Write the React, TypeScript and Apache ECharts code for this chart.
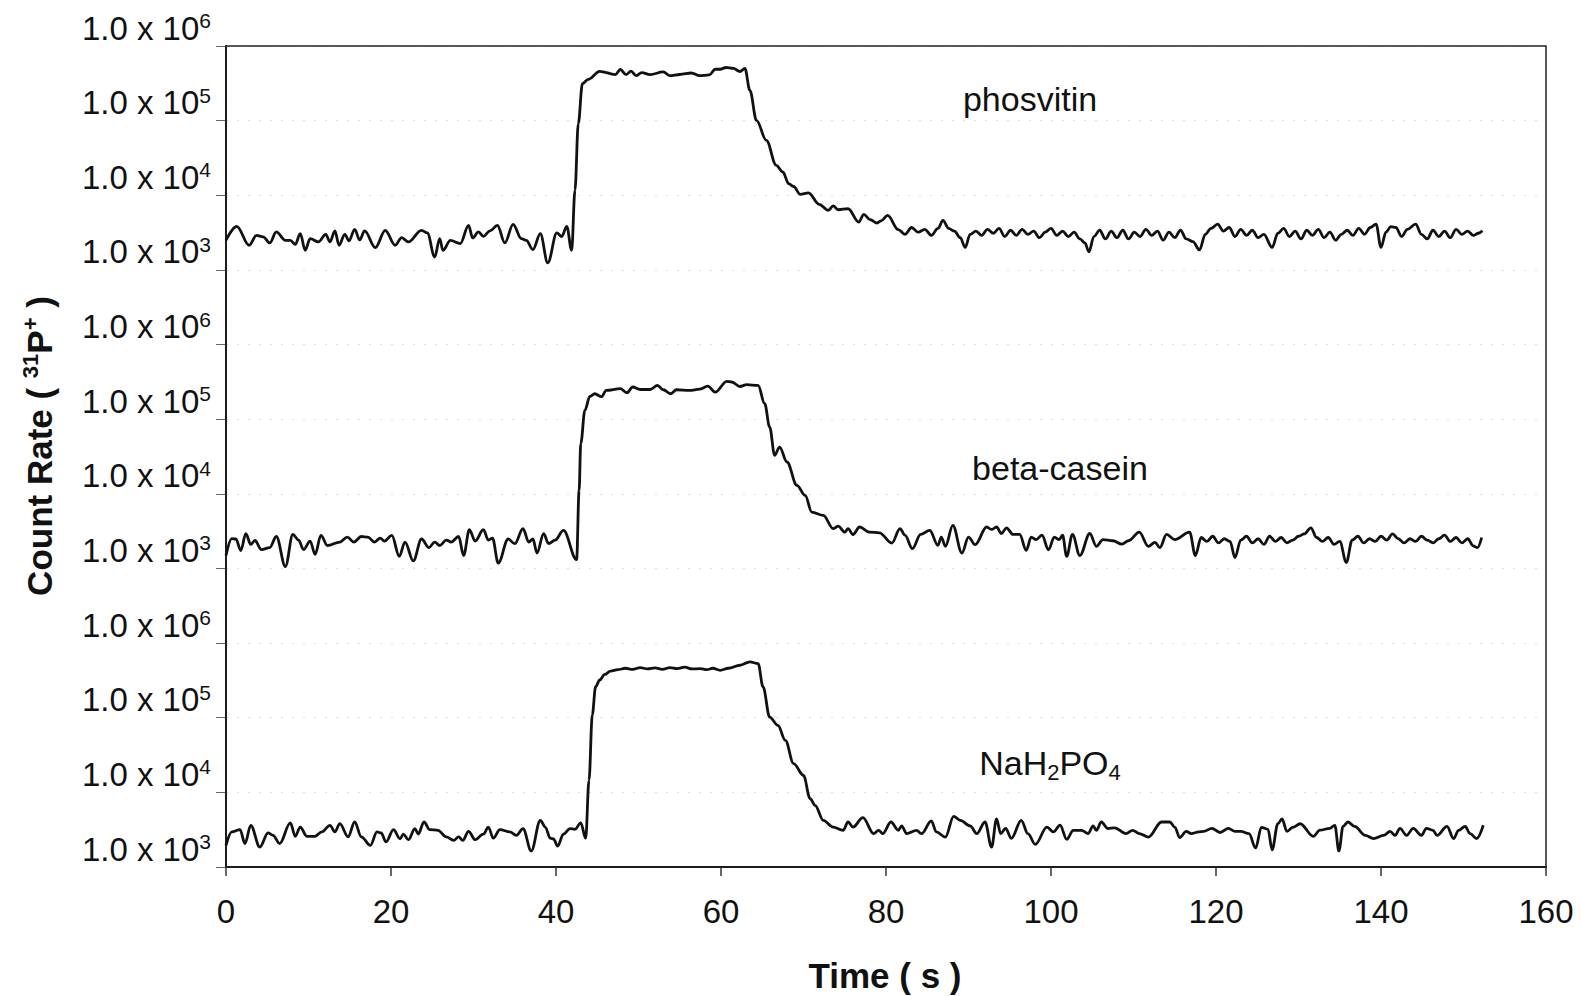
import React, { useEffect, useRef } from "react";
import * as echarts from "echarts";

// Time (s) vs count rate (31P+)
const phosvitin: [number, number][] = [
  [0, 2500], [1.3, 3840], [2.8, 2140], [3.7, 2900], [4.5, 2770], [5.3, 2300], [6.1, 3230], [7.2, 2490], [7.8, 2490], [8.4, 2200],
  [9.0, 3060], [9.6, 1830], [10.2, 2630], [11.2, 2370], [12.1, 3000], [12.6, 2370], [13.2, 3330], [13.7, 2140], [14.4, 3000], [14.9, 2450],
  [15.6, 3500], [16.2, 2520], [16.8, 3330], [18.1, 1990], [19.3, 3390], [20.5, 2140], [21.3, 2710], [22.1, 2370], [23.7, 3390], [24.4, 3130],
  [25.3, 1490], [25.9, 2630], [26.3, 1830], [27.2, 2490], [28.4, 2250], [29.4, 3960], [29.9, 2680], [30.6, 3230], [31.2, 2820], [32.0, 3330],
  [32.9, 3960], [33.8, 2300], [34.8, 4080], [35.8, 2630], [36.4, 2490], [37.2, 1870], [38.1, 3060], [39.0, 1240], [40.1, 3130], [40.7, 2800],
  [41.3, 3840], [41.9, 1830], [42.3, 11700], [42.7, 91000], [43.2, 313000], [43.9, 357000], [45.3, 458000], [47.2, 414000], [47.8, 484000], [48.5, 414000],
  [49.1, 460000], [49.7, 400000], [50.4, 440000], [51.4, 414000], [53.0, 450000], [53.8, 400000], [55.0, 415000], [56.4, 435000], [57.4, 400000], [58.6, 410000],
  [59.3, 488000], [59.9, 488000], [60.6, 515000], [61.5, 500000], [62.3, 455000], [62.9, 500000], [63.5, 255000], [64.3, 101000], [65.5, 54500], [66.7, 25200],
  [67.5, 20500], [68.2, 14300], [68.8, 13100], [69.6, 10300], [70.6, 10800], [71.9, 7560], [73.0, 6290], [73.6, 7200], [74.2, 6400], [75.4, 6600],
  [76.7, 4380], [77.3, 5550], [78.1, 4700], [78.9, 4250], [79.4, 4550], [80.2, 5380], [81.5, 3460], [82.3, 3000], [83.1, 3700], [83.9, 3200],
  [84.7, 3500], [85.5, 2900], [86.3, 3600], [86.9, 4600], [87.6, 3600], [88.3, 3300], [89.0, 2700], [89.6, 2000], [90.2, 3000], [90.9, 3300],
  [91.6, 2900], [92.3, 3500], [93.0, 3100], [93.7, 3600], [94.4, 2800], [95.1, 3400], [95.8, 2900], [96.5, 3500], [97.2, 3000], [97.9, 3300],
  [98.6, 2700], [99.3, 3200], [100.0, 3600], [100.7, 2900], [101.4, 3300], [102.1, 2800], [102.8, 3200], [103.5, 2600], [104.1, 2300], [104.6, 1750],
  [105.2, 2800], [105.9, 3400], [106.6, 2600], [107.3, 3300], [108.0, 2700], [108.7, 3400], [109.4, 2600], [110.1, 3200], [110.8, 2800], [111.5, 3500],
  [112.2, 2900], [112.9, 3300], [113.6, 2500], [114.3, 3200], [115.0, 2700], [115.7, 3400], [116.4, 2600], [117.2, 2400], [118.0, 1850], [118.7, 3000],
  [119.4, 3600], [120.2, 4100], [120.9, 3300], [121.6, 3700], [122.3, 2800], [123.0, 3500], [123.7, 2900], [124.4, 3400], [125.1, 2700], [125.8, 3000],
  [126.8, 2000], [127.5, 3100], [128.2, 3600], [128.9, 2800], [129.6, 3300], [130.3, 2600], [131.0, 3400], [131.7, 2900], [132.4, 3500], [133.1, 2700],
  [133.8, 3200], [134.5, 2500], [135.2, 3000], [135.9, 3400], [136.6, 2900], [137.3, 3600], [138.0, 3000], [138.7, 3700], [139.4, 4100], [140.0, 2000],
  [140.6, 3200], [141.2, 3800], [141.8, 3700], [142.5, 2800], [143.2, 3500], [144.2, 4100], [144.9, 3000], [145.6, 2600], [146.3, 3400], [147.0, 2800],
  [147.7, 3300], [148.4, 2700], [149.1, 3500], [149.8, 3000], [150.5, 3300], [151.2, 2900], [151.8, 3100], [152.3, 3350],
];

const betaCasein: [number, number][] = [
  [0, 1490], [0.7, 2510], [1.2, 2480], [1.8, 1740], [2.4, 2930], [3.0, 2100], [3.5, 2370], [4.3, 1790], [5.3, 1900], [6.1, 2680],
  [7.2, 1060], [8.1, 2850], [8.8, 2400], [9.4, 1790], [10.2, 2330], [10.8, 1540], [11.5, 2770], [12.3, 2030], [13.8, 2260], [14.7, 2630],
  [15.5, 2260], [16.4, 2680], [17.2, 2630], [18.0, 2260], [18.7, 2550], [19.2, 2330], [20.1, 2770], [21.0, 1450], [21.7, 2260], [22.7, 1260],
  [23.7, 2480], [24.6, 1900], [25.3, 2260], [25.9, 2030], [26.7, 2400], [27.3, 2260], [28.2, 2680], [28.8, 1490], [29.5, 3310], [30.2, 2330],
  [31.2, 3310], [31.8, 2400], [32.3, 2550], [33.0, 1180], [34.2, 2480], [35.0, 2150], [36.0, 3410], [36.7, 2260], [37.2, 2480], [37.7, 1610],
  [38.5, 2930], [39.1, 2150], [39.9, 2400], [40.9, 3230], [42.5, 1310], [42.8, 11100], [43.0, 47000], [43.5, 131000], [44.1, 202000], [44.7, 219000],
  [45.5, 200000], [46.1, 243000], [47.8, 256000], [48.6, 226000], [49.3, 270000], [50.2, 250000], [51.4, 250000], [52.3, 283000], [53.0, 248000], [53.9, 219000],
  [54.6, 248000], [56.2, 243000], [57.4, 252000], [58.4, 277000], [59.3, 230000], [60.7, 322000], [61.3, 315000], [62.3, 274000], [63.1, 290000], [64.5, 283000],
  [65.3, 161000], [65.9, 78400], [66.5, 32800], [67.1, 42300], [68.0, 26700], [69.2, 13000], [70.2, 9540], [71.0, 5700], [72.4, 5150], [73.6, 3410],
  [74.2, 3700], [75.0, 3070], [75.4, 3410], [76.0, 2850], [76.8, 3590], [78.0, 3070], [79.2, 3000], [80.7, 2190], [81.7, 3410], [82.3, 2790],
  [83.2, 1840], [84.2, 2860], [85.3, 3240], [86.3, 2040], [86.7, 2630], [87.2, 1980], [88.1, 3780], [89.2, 1610], [90.0, 2630], [90.8, 2080],
  [92.2, 3590], [92.8, 3330], [93.4, 3590], [94.0, 2940], [94.6, 3500], [95.4, 2860], [96.2, 2860], [97.0, 1750], [97.6, 2630], [98.2, 2430],
  [98.9, 2790], [99.7, 1780], [100.4, 2630], [101.0, 2430], [101.4, 2790], [101.9, 1450], [102.6, 2860], [103.5, 1490], [104.7, 2940], [105.5, 1980],
  [106.3, 2430], [107.5, 2350], [108.6, 2120], [109.4, 2350], [110.7, 3070], [111.8, 1980], [112.6, 2230], [113.2, 1900], [114.0, 2860], [115.0, 2430],
  [116.8, 3070], [117.5, 1490], [118.2, 2600], [118.9, 2300], [119.6, 2700], [120.3, 2200], [121.0, 2500], [121.7, 2300], [122.3, 1400], [123.0, 2400],
  [123.7, 2700], [124.4, 2200], [125.1, 2500], [125.8, 2100], [126.5, 2700], [127.2, 2300], [127.9, 2600], [128.6, 2200], [129.3, 2400], [130.0, 2700],
  [130.7, 2900], [131.5, 3500], [132.2, 2600], [132.9, 2300], [133.6, 2600], [134.3, 2100], [135.0, 2300], [135.8, 1200], [136.5, 2400], [137.2, 2700],
  [137.9, 2200], [138.6, 2500], [139.3, 2300], [140.0, 2700], [140.7, 2400], [141.4, 2900], [142.1, 2500], [142.8, 2200], [143.5, 2500], [144.2, 2300],
  [144.9, 2700], [145.6, 2400], [146.3, 2200], [147.0, 2500], [147.7, 2800], [148.4, 2300], [149.1, 2600], [149.8, 2200], [150.5, 2500], [151.2, 2000],
  [151.7, 1900], [152.2, 2600],
];

const nah2po4: [number, number][] = [
  [0, 1950], [0.7, 2950], [1.7, 3170], [2.3, 2060], [3.0, 3620], [4.1, 1850], [5.1, 2860], [5.7, 2660], [6.5, 2060], [7.8, 3890],
  [8.4, 2580], [9.0, 3430], [9.8, 2580], [10.8, 2580], [11.6, 2950], [12.6, 3620], [13.2, 2950], [13.8, 3810], [14.8, 2530], [15.6, 4010],
  [16.4, 2530], [17.5, 1950], [18.3, 2950], [18.8, 2860], [19.4, 2170], [20.3, 3170], [21.1, 2380], [21.5, 2760], [22.1, 2320], [22.9, 3270],
  [23.3, 2760], [24.0, 4010], [24.7, 3170], [25.7, 3100], [26.7, 2530], [27.6, 2270], [28.2, 2530], [28.7, 2270], [29.4, 3010], [30.2, 2320],
  [31.2, 2760], [31.8, 3430], [32.4, 2430], [33.2, 3170], [34.4, 2950], [35.2, 2660], [36.0, 3270], [37.0, 1640], [38.1, 4220], [38.7, 3430],
  [39.3, 2430], [39.7, 2380], [40.2, 1900], [40.9, 2760], [41.7, 3270], [42.3, 3200], [43.0, 3890], [43.6, 2430], [44.0, 14500], [44.4, 110000],
  [44.8, 260000], [45.3, 320000], [45.9, 380000], [46.6, 420000], [47.5, 440000], [48.4, 460000], [49.3, 445000], [50.2, 470000], [51.1, 450000], [52.0, 465000],
  [52.9, 445000], [53.8, 470000], [54.7, 455000], [55.6, 475000], [56.5, 450000], [57.5, 455000], [58.3, 440000], [59.0, 460000], [59.9, 432000], [60.9, 460000],
  [62.3, 505000], [63.5, 560000], [64.5, 530000], [65.1, 258000], [65.9, 102000], [66.9, 79000], [67.8, 49800], [68.8, 24300], [70.0, 16900], [70.8, 8260],
  [71.4, 6700], [72.4, 4220], [73.6, 3430], [74.8, 3100], [75.4, 4010], [76.0, 3430], [77.2, 4580], [78.5, 2800], [79.1, 3100], [79.6, 2800],
  [80.6, 4010], [81.5, 3100], [81.9, 3550], [82.5, 2800], [83.7, 3100], [84.3, 2800], [85.5, 4140], [86.1, 2950], [87.2, 2520], [88.2, 4780],
  [89.0, 4220], [90.2, 3550], [91.0, 2800], [92.0, 4010], [92.8, 1850], [93.4, 4400], [93.9, 2800], [94.5, 3280], [95.2, 2420], [96.4, 4220],
  [97.2, 2800], [98.1, 2010], [99.5, 3430], [100.3, 2950], [101.1, 3650], [101.9, 2350], [102.7, 3100], [103.7, 3100], [104.5, 2800], [105.1, 3550],
  [105.5, 3100], [106.1, 4010], [106.9, 3280], [107.7, 3350], [109.1, 2800], [109.9, 3100], [110.7, 2800], [111.8, 2520], [113.4, 4010], [114.4, 4010],
  [115.0, 3430], [115.6, 2480], [116.4, 3000], [117.0, 2800], [117.9, 2950], [118.5, 3000], [119.5, 3300], [120.5, 2900], [121.5, 3300], [122.3, 3000],
  [123.0, 3000], [124.0, 2800], [124.8, 1800], [125.5, 3400], [126.3, 3200], [126.8, 1700], [127.5, 3800], [128.0, 4400], [128.6, 3000], [129.3, 3400],
  [130.2, 3800], [131.8, 2580], [132.6, 3110], [133.8, 3300], [134.4, 3620], [134.9, 1640], [135.4, 3500], [136.0, 4010], [136.8, 3500], [138.1, 2650],
  [139.1, 2400], [140.3, 2650], [141.1, 3000], [141.7, 2650], [142.3, 3300], [143.1, 2650], [143.9, 3300], [144.9, 2650], [145.5, 3300], [146.3, 3100],
  [146.8, 2650], [148.0, 3500], [148.8, 2400], [149.4, 3100], [150.2, 3500], [150.8, 2800], [151.6, 2400], [152.4, 3620],
];

// each panel sits 4 decades above the previous one on the shared decade axis
const panelShift = [0, 4, 8]; // decades: NaH2PO4, beta-casein, phosvitin
// exponent shown at each decade tick, bottom (10^3 position) to top
const yTickExponents = [3, 4, 5, 6, 3, 4, 5, 6, 3, 4, 5, 6];
const panelLabels = ["NaH2PO4", "beta-casein", "phosvitin"];

const FONT = "'Liberation Sans', Arial, Helvetica, sans-serif";
const INK = "#111";

export default function App() {
  const ref = useRef<HTMLDivElement>(null);
  useEffect(() => {
    if (!ref.current) return;
    const chart = echarts.init(ref.current, undefined, { renderer: "svg" });
    // y axis is in decades (log10 of the count rate), stacked by panel
    const toDecades = (d: [number, number][], shift: number) => d.map(([t, v]) => [t, Math.log10(v) + shift]);
    const lineSeries = (name: string, data: number[][]) => ({
      name,
      type: "line",
      data,
      showSymbol: false,
      symbol: "none",
      smooth: 0.35,
      smoothMonotone: "x",
      lineStyle: { color: INK, width: 2.8 },
      z: 5,
    });
    chart.setOption({
      animation: false,
      backgroundColor: "#fff",
      grid: { left: 226, top: 46, right: 35, bottom: 129, show: true, borderColor: "#222", borderWidth: 1.5, z: 3 },
      xAxis: {
        type: "value",
        min: 0,
        max: 160,
        interval: 20,
        axisLine: { show: true, lineStyle: { color: INK, width: 2 } },
        axisTick: { show: true, inside: false, length: 9, lineStyle: { color: "#333", width: 1.5 } },
        axisLabel: { fontSize: 33, color: INK, fontFamily: FONT, margin: 28 },
        splitLine: { show: false },
      },
      yAxis: {
        type: "value",
        min: 3,
        max: 14,
        interval: 1,
        axisLine: { show: true, lineStyle: { color: INK, width: 2 } },
        axisTick: { show: true, inside: false, length: 10, lineStyle: { color: "#666", width: 1 } },
        splitLine: { show: true, lineStyle: { color: "#dedede", type: [2, 9], width: 1 } },
        axisLabel: {
          margin: 15,
          verticalAlign: "bottom",
          formatter: (v: number) => {
            const e = Math.round(v);
            return `{b|1.0 x 10}{s|${yTickExponents[e - 3]}}`;
          },
          rich: {
            b: { fontSize: 33, fontFamily: FONT, color: INK, lineHeight: 36 },
            s: { fontSize: 21, fontFamily: FONT, color: INK, lineHeight: 20, verticalAlign: "top" },
          },
        },
      },
      graphic: [
        {
          type: "text",
          x: 39,
          y: 446,
          rotation: Math.PI / 2,
          style: {
            text: "{b|Count Rate ( }{s|31}{b|P}{s|+}{b| )}",
            align: "center",
            verticalAlign: "middle",
            rich: {
              b: { fontSize: 35, fontWeight: "bold", fontFamily: FONT, fill: INK, lineHeight: 40 },
              s: { fontSize: 22, fontWeight: "bold", fontFamily: FONT, fill: INK, lineHeight: 20, verticalAlign: "top" },
            },
          },
        },
        {
          type: "text",
          x: 885,
          y: 975,
          style: {
            text: "Time ( s )",
            align: "center",
            verticalAlign: "middle",
            font: `bold 35px ${FONT}`,
            fill: INK,
          },
        },
        {
          type: "text",
          x: 1030,
          y: 99,
          style: { text: panelLabels[2], align: "center", verticalAlign: "middle", font: `34px ${FONT}`, fill: INK },
        },
        {
          type: "text",
          x: 1060,
          y: 468,
          style: { text: panelLabels[1], align: "center", verticalAlign: "middle", font: `34px ${FONT}`, fill: INK },
        },
        {
          type: "text",
          x: 1050,
          y: 763,
          style: {
            text: "{b|NaH}{u|2}{b|PO}{u|4}",
            align: "center",
            verticalAlign: "middle",
            rich: {
              b: { fontSize: 34, fontFamily: FONT, fill: INK, lineHeight: 40 },
              u: { fontSize: 22, fontFamily: FONT, fill: INK, lineHeight: 16, verticalAlign: "bottom" },
            },
          },
        },
      ],
      series: [
        lineSeries(panelLabels[0], toDecades(nah2po4, panelShift[0])),
        lineSeries(panelLabels[1], toDecades(betaCasein, panelShift[1])),
        lineSeries(panelLabels[2], toDecades(phosvitin, panelShift[2])),
      ],
    });
    return () => chart.dispose();
  }, []);
  return (
    <div
      ref={ref}
      style={{ position: "fixed", left: 0, top: 0, width: 1581, height: 996, background: "#fff" }}
    />
  );
}
